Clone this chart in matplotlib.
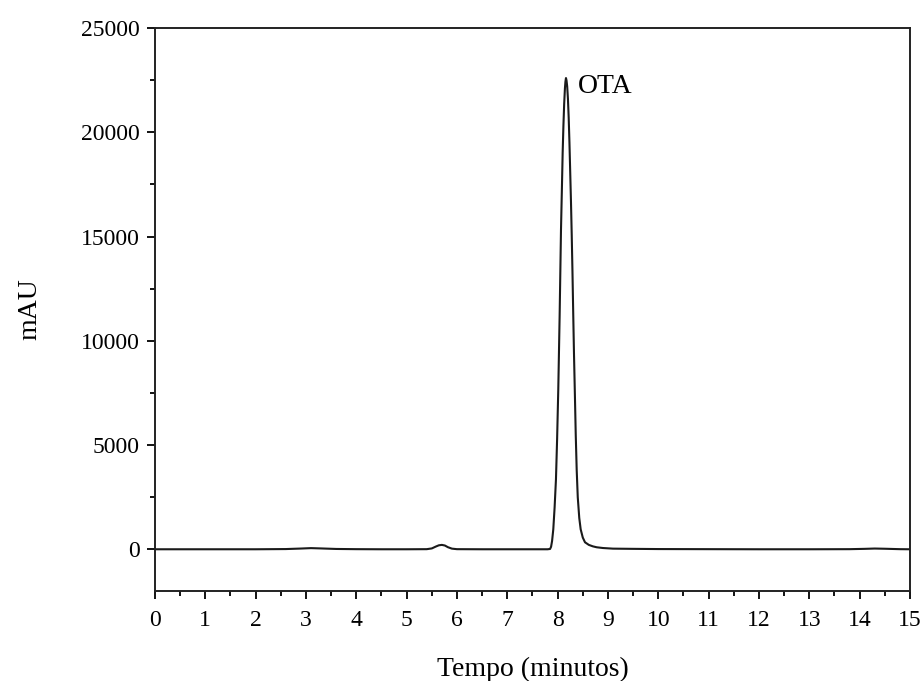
import matplotlib.pyplot as plt
from matplotlib.ticker import MultipleLocator

# chromatogram trace (time in min, signal in mAU)
tempo = [0.0, 1.0, 2.0, 2.6, 2.9, 3.1, 3.3, 3.6, 4.0, 4.5, 5.0, 5.4,
         5.5, 5.58, 5.64, 5.70, 5.76, 5.82, 5.90, 6.0, 6.5, 7.0, 7.5, 7.80,
         7.85, 7.87, 7.89, 7.914, 7.94, 7.967, 7.99, 8.013, 8.04, 8.067,
         8.085, 8.10, 8.115, 8.13, 8.145, 8.155, 8.166, 8.177, 8.19, 8.205,
         8.22, 8.235, 8.25, 8.265, 8.28, 8.295, 8.31, 8.325, 8.345, 8.36,
         8.379, 8.40, 8.43, 8.458, 8.50, 8.544, 8.62, 8.70, 8.776, 8.9,
         9.1, 9.5, 10.0, 11.0, 12.0, 13.0, 13.8, 14.1, 14.3, 14.5, 14.8, 15.0]
senal = [0, 0, 0, 10, 35, 55, 40, 15, 5, 0, 0, 5,
         40, 130, 190, 210, 180, 100, 30, 5, 0, 0, 0, 0,
         15, 120, 400, 958, 2000, 3352, 5300, 7663, 11200, 15326,
         17300, 19000, 20300, 21350, 22100, 22420, 22600, 22480, 22200, 21600,
         20700, 19500, 18100, 16700, 15100, 13300, 11300, 9400, 7200, 5500,
         3800, 2500, 1500, 958, 560, 335, 210, 140, 96, 60,
         30, 20, 10, 5, 0, 0, 5, 20, 35, 25, 5, 0]

x_ticks = list(range(0, 16))
y_ticks = [0, 5000, 10000, 15000, 20000, 25000]

plt.rcParams["font.family"] = ["Liberation Serif", "DejaVu Serif"]

fig = plt.figure(figsize=(9.24, 6.81), dpi=100)
ax = fig.add_axes([0.1677, 0.1322, 0.8171, 0.8267])

ax.plot(tempo, senal, color="#1a1a1a", linewidth=1.5)
ax.text(8.40, 21900, "OTA", fontsize=20, ha="left", va="baseline")

ax.set_xlim(0, 15)
ax.set_ylim(-2000, 25000)
ax.set_xticks(x_ticks)
ax.set_yticks(y_ticks)
ax.xaxis.set_minor_locator(MultipleLocator(0.5))
ax.yaxis.set_minor_locator(MultipleLocator(2500))

ax.tick_params(which="major", direction="out", length=6, width=1.3, labelsize=17)
ax.tick_params(axis="x", which="major", pad=8)
ax.tick_params(axis="y", which="major", pad=5)
ax.tick_params(which="minor", direction="out", length=3.5, width=1.3)
for s in ax.spines.values():
    s.set_linewidth(1.4)
    s.set_color("#222222")

ax.set_xlabel("Tempo (minutos)", fontsize=20, labelpad=18)
ax.set_ylabel("mAU", fontsize=20, labelpad=28)

fig.savefig("out.png", dpi=100)
